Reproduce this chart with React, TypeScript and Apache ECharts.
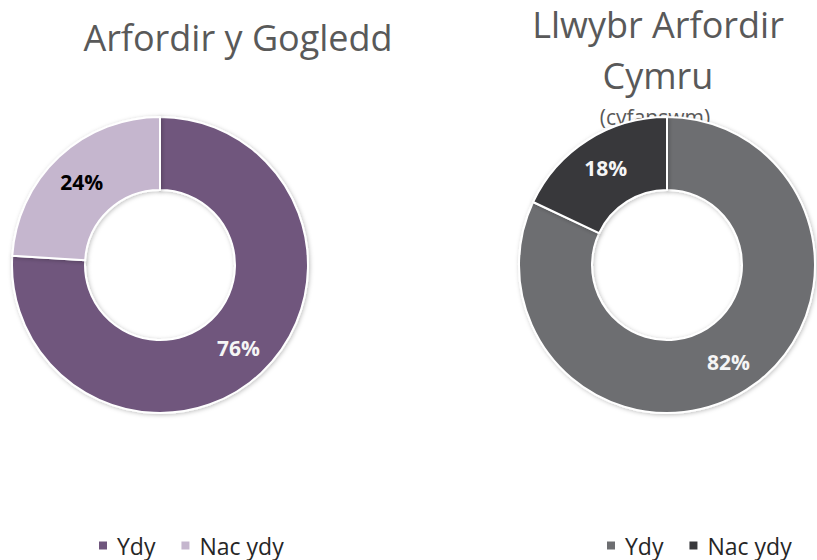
import React, { useEffect, useRef } from "react";
import * as echarts from "echarts";

const categories = ["Ydy", "Nac ydy"];
const northValues = [76, 24];
const totalValues = [82, 18];
const northColors = ["#6F567D", "#C5B6CE"];
const totalColors = ["#6D6E71", "#38383B"];
const northLabelColors = ["#F5F5F5", "#000000"];
const totalLabelColors = ["#F5F5F5", "#F5F5F5"];
const titleLeft = "Arfordir y Gogledd";
const titleRightLines = ["Llwybr Arfordir", "Cymru"];
const subtitleRight = "(cyfanswm)";

const FONT = "'Open Sans', Lato, sans-serif";

export default function App() {
  const ref = useRef<HTMLDivElement>(null);
  useEffect(() => {
    document.body.style.margin = "0";
    if (!ref.current) return;
    const chart = echarts.init(ref.current, undefined, { renderer: "svg" });
    const mkData = (vals: number[], colors: string[], labelColors: string[]) =>
      vals.map((v, i) => ({
        name: categories[i],
        value: v,
        itemStyle: { color: colors[i] },
        label: { color: labelColors[i] },
      }));
    const pieBase = {
      type: "pie",
      radius: [75, 148],
      startAngle: 90,
      clockwise: true,
      avoidLabelOverlap: false,
      labelLine: { show: false },
      label: {
        show: true,
        position: "inside",
        formatter: "{c}%",
        fontFamily: FONT,
        fontWeight: "bold",
        fontSize: 21,
      },
      itemStyle: {
        borderColor: "#FFFFFF",
        borderWidth: 2,
        shadowBlur: 4,
        shadowColor: "rgba(0,0,0,0.25)",
        shadowOffsetX: 1,
        shadowOffsetY: 1,
      },
      emphasis: { disabled: true },
    };
    const legendBase = {
      orient: "horizontal",
      icon: "rect",
      itemWidth: 10,
      itemHeight: 10,
      itemGap: 24,
      top: 534,
      padding: 0,
      textStyle: {
        fontFamily: FONT,
        fontSize: 23,
        lineHeight: 22,
        color: "#262626",
        padding: [0, 0, 0, 4],
      },
      selectedMode: false,
    };
    chart.setOption({
      animation: false,
      legend: [
        {
          ...legendBase,
          left: 97,
          data: categories.map((c, i) => ({ name: c, itemStyle: { color: northColors[i] } })),
        },
        {
          ...legendBase,
          left: 605,
          data: categories.map((c, i) => ({ name: c, itemStyle: { color: totalColors[i] } })),
        },
      ],
      graphic: [
        {
          type: "text",
          x: 238,
          y: 37,
          style: {
            text: titleLeft,
            fontFamily: FONT,
            fontSize: 36,
            fill: "#595959",
            align: "center",
            verticalAlign: "middle",
          },
        },
        ...titleRightLines.map((t, i) => ({
          type: "text",
          x: 658,
          y: 24 + i * 51,
          style: {
            text: t,
            fontFamily: FONT,
            fontSize: 36,
            fill: "#595959",
            align: "center",
            verticalAlign: "middle",
          },
        })),
        {
          type: "text",
          x: 655,
          y: 117,
          style: {
            text: subtitleRight,
            fontFamily: FONT,
            fontSize: 21,
            fill: "#595959",
            align: "center",
            verticalAlign: "middle",
          },
        },
      ],
      series: [
        {
          ...pieBase,
          name: "north",
          center: [160, 265],
          data: mkData(northValues, northColors, northLabelColors),
        },
        {
          ...pieBase,
          name: "total",
          center: [667, 265],
          data: mkData(totalValues, totalColors, totalLabelColors),
        },
      ],
    });
    return () => chart.dispose();
  }, []);
  return <div ref={ref} style={{ width: 817, height: 560 }} />;
}
